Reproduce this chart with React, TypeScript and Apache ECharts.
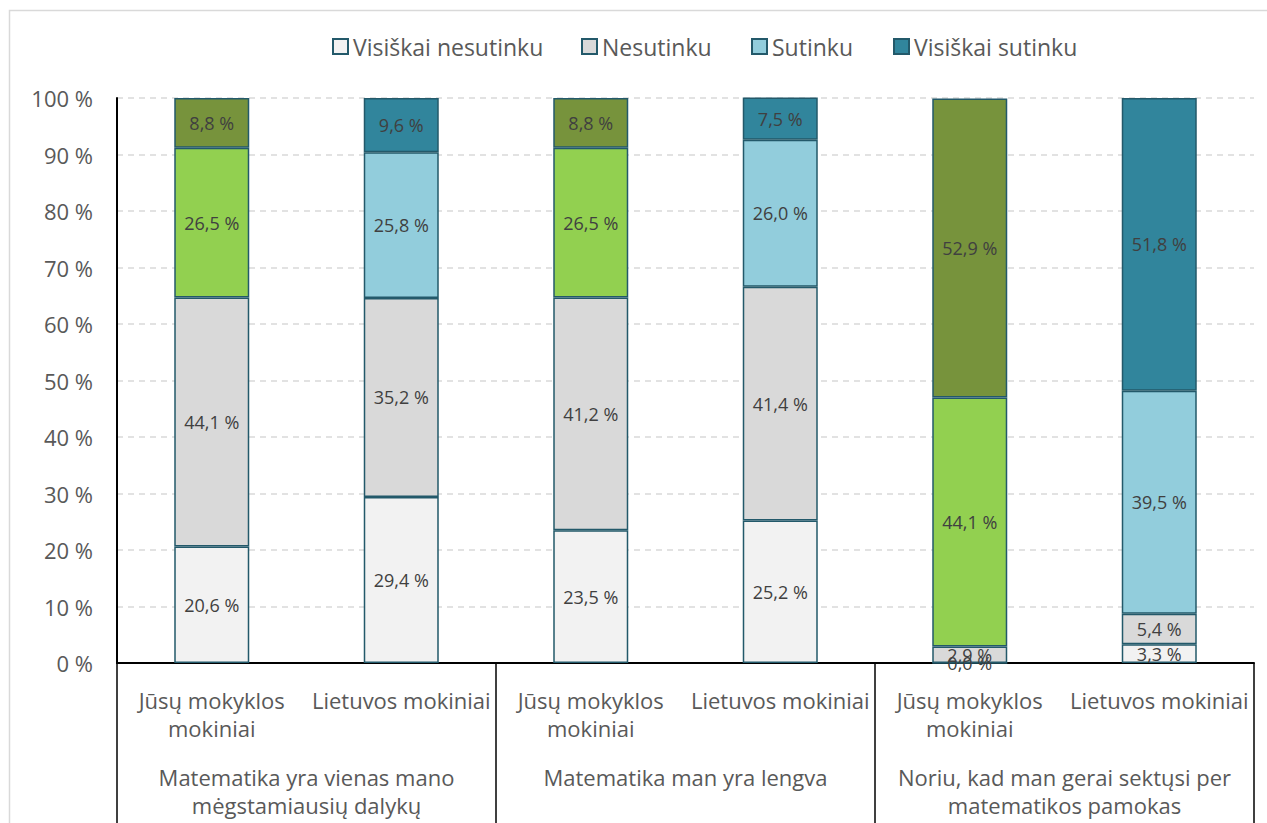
import React, { useEffect, useRef } from "react";
import * as echarts from "echarts";

const categories = [
  "Jūsų mokyklos\nmokiniai",
  "Lietuvos mokiniai",
  "Jūsų mokyklos\nmokiniai",
  "Lietuvos mokiniai",
  "Jūsų mokyklos\nmokiniai",
  "Lietuvos mokiniai",
];
const groups = [
  "Matematika yra vienas mano\nmėgstamiausių dalykų",
  "Matematika man yra lengva",
  "Noriu, kad man gerai sektųsi per\nmatematikos pamokas",
];
const seriesNames = ["Visiškai nesutinku", "Nesutinku", "Sutinku", "Visiškai sutinku"];
const visiskaiNesutinku = [20.6, 29.4, 23.5, 25.2, 0.0, 3.3];
const nesutinku = [44.1, 35.2, 41.2, 41.4, 2.9, 5.4];
const sutinku = [26.5, 25.8, 26.5, 26.0, 44.1, 39.5];
const visiskaiSutinku = [8.8, 9.6, 8.8, 7.5, 52.9, 51.8];
const yTicks = [0, 10, 20, 30, 40, 50, 60, 70, 80, 90, 100];

const blueColors = ["#F2F2F2", "#D9D9D9", "#92CDDC", "#31859C"];
const greenColors = ["#F2F2F2", "#D9D9D9", "#92D050", "#77933C"];
const legendLefts = [332, 581, 751, 893];

const FONT = "Open Sans";
const TEXT = "#595959";

export default function App() {
  const ref = useRef<HTMLDivElement>(null);
  useEffect(() => {
    if (!ref.current) return;
    const chart = echarts.init(ref.current, null, { renderer: "svg" });
    const values = [visiskaiNesutinku, nesutinku, sutinku, visiskaiSutinku];
    const series = values.map((arr, si) => ({
      name: seriesNames[si],
      type: "bar",
      stack: "total",
      barWidth: 75,
      xAxisIndex: 0,
      itemStyle: { color: blueColors[si], borderColor: "#23596A", borderWidth: 1.5 },
      label: {
        show: true,
        position: "inside",
        color: "#404040",
        fontFamily: FONT,
        fontSize: 18,
        formatter: (p: any) => p.value.toFixed(1).replace(".", ",") + " %",
      },
      data: arr.map((v, i) =>
        i % 2 === 0
          ? { value: v, itemStyle: { color: greenColors[si] } }
          : { value: v }
      ),
    }));
    chart.setOption({
      animation: false,
      textStyle: { fontFamily: FONT },
      graphic: [
        {
          type: "rect",
          shape: { x: 9.5, y: 10.5, width: 1400, height: 1000 },
          style: { fill: "none", stroke: "#D9D9D9", lineWidth: 1.5 },
          silent: true,
          z: -10,
        },
      ],
      legend: seriesNames.map((n, i) => ({
        data: [n],
        left: legendLefts[i],
        top: 35,
        padding: 0,
        itemWidth: 15,
        itemHeight: 15,
        itemGap: 5,
        icon: "rect",
        textStyle: { color: TEXT, fontSize: 23, fontFamily: FONT },
        selectedMode: false,
      })),
      grid: { left: 117, right: 13, top: 98, bottom: 160, containLabel: false },
      xAxis: [
        {
          type: "category",
          data: categories,
          position: "bottom",
          axisLine: { show: true, lineStyle: { color: "#000", width: 2 } },
          axisTick: { show: false },
          axisLabel: {
            interval: 0,
            color: TEXT,
            fontSize: 22,
            lineHeight: 28,
            margin: 23,
            verticalAlign: "top",
            fontFamily: FONT,
          },
        },
        {
          type: "category",
          data: groups,
          position: "bottom",
          axisLine: { show: false },
          axisTick: { show: true, length: 170, lineStyle: { color: "#000", width: 1.5 } },
          axisLabel: {
            interval: 0,
            color: TEXT,
            fontSize: 22,
            lineHeight: 28,
            margin: 100,
            verticalAlign: "top",
            fontFamily: FONT,
          },
        },
      ],
      yAxis: {
        type: "value",
        min: yTicks[0],
        max: yTicks[yTicks.length - 1],
        interval: 10,
        axisLine: { show: true, lineStyle: { color: "#000", width: 2 } },
        axisTick: { show: false },
        axisLabel: {
          color: TEXT,
          fontSize: 22,
          margin: 24,
          fontFamily: FONT,
          formatter: (v: number) => v + " %",
        },
        splitLine: { show: true, lineStyle: { color: "#D9D9D9", width: 1.5, type: [6, 5] } },
      },
      series,
    });
    return () => chart.dispose();
  }, []);
  return (
    <div
      ref={ref}
      style={{ position: "fixed", left: 0, top: 0, width: 1267, height: 823, background: "#fff" }}
    />
  );
}
